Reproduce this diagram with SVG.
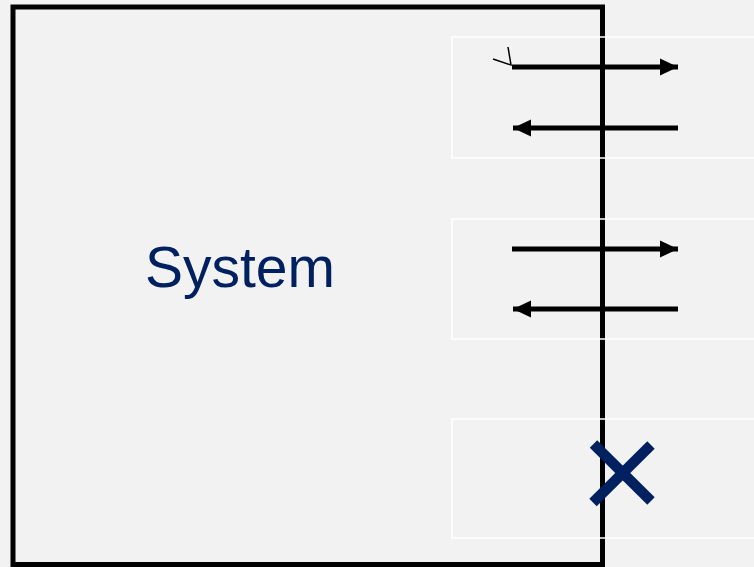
<svg xmlns="http://www.w3.org/2000/svg" width="754" height="567" viewBox="0 0 754 567">
<defs>
<style>
.flow{stroke:#000;stroke-width:5;fill:none}
.slot{fill:none;stroke:#fff;stroke-width:1.5}
</style>
<marker id="ah" markerWidth="18" markerHeight="18" viewBox="0 0 18 18" refX="18" refY="9" orient="auto" markerUnits="userSpaceOnUse">
<path d="M0,0.5 L18,9 L0,17.5 Z" fill="#000"/>
</marker>
</defs>
<rect width="754" height="567" fill="#f2f2f2"/>
<g id="system">
<rect x="13" y="7" width="589.5" height="557.5" fill="#f2f2f2" stroke="#000" stroke-width="5"/>
<text x="240" y="286.5" font-family="Liberation Sans, Arial, sans-serif" font-size="57" fill="#002060" text-anchor="middle">System</text>
</g>
<g id="slot1"><rect class="slot" x="452" y="37" width="310" height="121"/></g>
<g id="slot2"><rect class="slot" x="452" y="219" width="310" height="120"/></g>
<g id="slot3"><rect class="slot" x="452" y="419" width="310" height="119"/></g>
<g id="connectors">
<line class="flow" x1="512" y1="67" x2="678" y2="67" marker-end="url(#ah)"/>
<line class="flow" x1="678" y1="128" x2="513" y2="128" marker-end="url(#ah)"/>
<line class="flow" x1="512" y1="249" x2="678" y2="249" marker-end="url(#ah)"/>
<line class="flow" x1="678" y1="309" x2="513" y2="309" marker-end="url(#ah)"/>
<path d="M493,59 L511,65 L508,47" fill="none" stroke="#000" stroke-width="1.5"/>
</g>
<g id="blocked">
<line x1="593.5" y1="444" x2="651" y2="501" stroke="#002060" stroke-width="10.5"/>
<line x1="651" y1="445" x2="593" y2="502.5" stroke="#002060" stroke-width="10.5"/>
</g>
</svg>
